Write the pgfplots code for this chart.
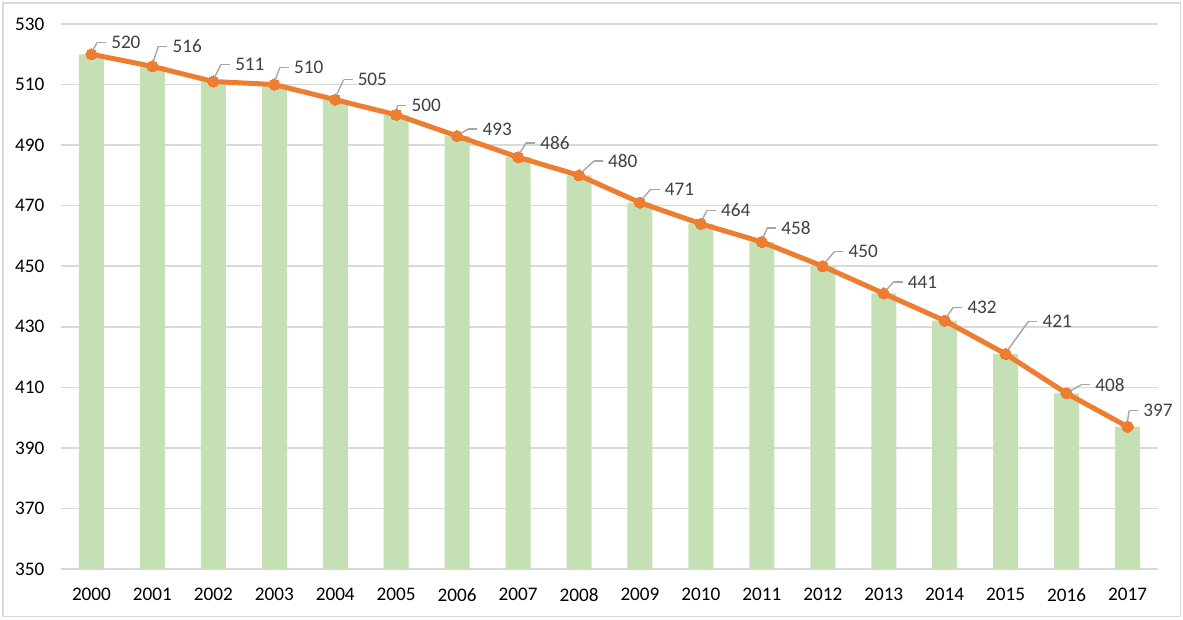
\documentclass[border=0pt]{standalone}
\usepackage{fontspec}
\setmainfont{Carlito}
\usepackage{pgfplots}
\usepackage{pgfplotstable}
\pgfplotsset{compat=1.18}
\definecolor{barg}{HTML}{C5E0B4}
\definecolor{lineo}{HTML}{ED7D31}
\definecolor{gridg}{HTML}{D9D9D9}
\definecolor{lblg}{HTML}{404040}
\definecolor{leadg}{HTML}{A6A6A6}

% x = category index, dx/dy = label offset (pt) from the point
\pgfplotstableread{
x year val dx dy
0 2000 520 9.9 5.85
1 2001 516 10.1 10
2 2002 511 10.95 8.65
3 2003 510 9.95 8.65
4 2004 505 11.25 10
5 2005 500 7.75 4.65
6 2006 493 12.75 3.5
7 2007 486 11.1 7.15
8 2008 480 14.6 7.15
9 2009 471 12.45 6.65
10 2010 464 10.1 6.65
11 2011 458 9.8 7
12 2012 450 12.9 7.3
13 2013 441 12.1 5.8
14 2014 432 11.4 6.7
15 2015 421 18.45 16.2
16 2016 408 14.45 4.3
17 2017 397 7.9 8
}\data

\begin{document}
\begin{tikzpicture}
\useasboundingbox (0,0) rectangle (591.5pt,310pt);
\draw[gridg, line width=0.75pt] (1.5pt,1.65pt) rectangle (590.3pt,308.6pt);
\begin{axis}[
  scale only axis,
  width=548.5pt, height=272.5pt,
  at={(30.5pt,25.5pt)}, anchor=south west,
  xmin=-0.5, xmax=17.5,
  ymin=350, ymax=530,
  ytick={350,370,...,530},
  xtick={0,...,17},
  xticklabels={2000,2001,2002,2003,2004,2005,2006,2007,2008,2009,2010,2011,2012,2013,2014,2015,2016,2017},
  ymajorgrids,
  grid style={gridg, line width=0.75pt},
  axis line style={draw=none},
  major tick length=0pt,
  tick style={draw=none},
  tick label style={font=\fontsize{9.6}{11}\selectfont, text=black},
  /pgf/number format/assume math mode=true,
  yticklabel style={inner sep=0pt, anchor=east, xshift=-8.1pt},
  xticklabel style={inner sep=0pt, anchor=north, yshift=-9.5pt},
]
\addplot[ybar, bar width=12.5pt, fill=barg, draw=none] table[x=x, y=val] {\data};
\addplot[
  lineo, line width=2.5pt,
  mark=*, mark size=2.8pt,
  mark options={fill=lineo, draw=lineo, line width=0pt},
  visualization depends on={\thisrow{dx} \as \ldx},
  visualization depends on={\thisrow{dy} \as \ldy},
  nodes near coords,
  every node near coord/.append style={
    anchor=west, inner sep=0pt,
    xshift=\ldx pt, yshift=\ldy pt,
    font=\fontsize{9.6}{11}\selectfont, text=lblg,
    append after command={
      ([xshift=-2.6pt]\tikzlastnode.west) edge[draw=leadg, line width=0.7pt]
        ([xshift=-7.1pt]\tikzlastnode.west)
      ([xshift=-7.1pt]\tikzlastnode.west) edge[draw=leadg, line width=0.7pt, shorten >=2.6pt]
        ([xshift=-\ldx pt-0.4pt, yshift=-\ldy pt]\tikzlastnode.west)
    },
  },
] table[x=x, y=val] {\data};
\end{axis}
\end{tikzpicture}
\end{document}
